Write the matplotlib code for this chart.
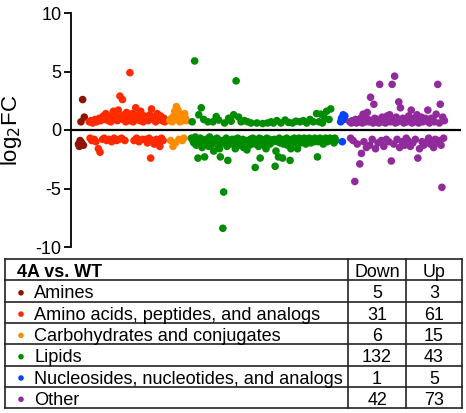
import numpy as np
import matplotlib
matplotlib.use("Agg")
import matplotlib.pyplot as plt

plt.rcParams['font.family'] = ['Liberation Sans', 'DejaVu Sans']

# log2FC values per class, in order along the x axis
amines = [-1.2, -1.4, -0.9, 0.7, -1.1, 2.6, -1.3, 1.1]
amino_acids = [0.7, -0.7, 0.8, -0.9, 0.6, 0.7, -0.8, 0.9, -1.0, 0.7, 0.8, -1.6, 1.0, -1.9, 0.8, 0.9,
               -0.8, 1.2, -0.7, 0.9, 1.4, -0.9, 1.1, 0.8,
               -0.8, 1.0, 0.7, -1.0, 1.3, 1.6, -0.7, 0.9, 1.2, -0.9, 0.8, 1.7, -0.8, 2.9, 1.1, -0.7,
               2.6, 0.9, 1.3, -0.9, 0.7, 1.5, 1.0, 0.8,
               1.2, 4.9, 0.8, 1.0, 1.4, 0.7, -0.9, 1.1, 1.9, -0.7, 0.9, 1.3, -1.0, 0.8, 1.6, 1.0,
               -0.8, 0.7, 1.2, 0.9,
               -0.8, 1.0, -1.1, 0.8, -0.7, 1.3, -2.4, 1.8, -0.9, 0.9, -1.2, 1.1, 0.7, -0.8, 1.4, -1.0,
               0.9, -1.4, 1.2, -0.7, 0.8, -0.9, 1.0, 0.7]
carbohydrates = [0.8, -0.9, 1.0, 0.7, -1.4, 1.2, 1.6, -1.1, 2.0, 0.9, 1.7, -0.8, 0.7, 1.1, 1.3, -0.9,
                 0.8, -0.7, 1.4, 1.0, 0.8]
lipids = [-0.7, 0.7, -0.9, -1.1, 5.9, -0.6, -1.3, -0.8, -2.4, 1.3, -1.0, -0.7, 1.9, -1.5, -0.9, 0.9,
          -2.3, -1.2, -0.8, -1.0, 0.7, -1.4, -0.6, -1.1, -0.9,
          -1.2, 0.7, -1.8, -0.8, -1.0, 1.15, -0.7, -1.3, 0.85, -1.6, -2.3, -0.9, -1.1, -8.4, -5.3, 0.6,
          -1.0, -0.7, -1.4, -2.6, 1.0, -0.9, -1.2, 0.75, -0.8,
          -1.1, 1.3, -0.8, -1.6, 4.2, -1.0, -0.7, 1.1, -1.3, -0.9, 0.7, -1.2, -0.8, -1.5, 0.8, -1.1,
          -0.9, -1.7, 0.7, -1.0, -1.3, -0.8, 0.6, -1.2, -0.7,
          -1.0, -0.8, -3.2, -1.2, 0.6, -0.9, -1.4, -0.7, -2.4, -1.1, -0.8, 0.55, -1.0, -1.3, -0.9, -1.6,
          -0.7, 0.6, -1.1, -0.8, -1.2, 0.7, -0.9, -1.0, 0.6,
          -0.8, -3.1, -1.8, 0.8, -1.0, -2.3, -0.7, -1.1, 0.6, -0.9, -2.4, -1.2, -0.8, 0.85, -1.0, -0.7,
          -1.3, 0.65, -0.9, -2.6, -1.6, -0.8, 0.6, -1.1, -0.7,
          -1.0, 0.75, -0.8, -1.6, -0.9, -0.7, 0.7, -1.1, -0.8, -1.0, 0.8, -0.7, -0.9, -1.2, 0.6, -0.8,
          -1.0, -0.7, 0.9, -1.1, -0.8, -0.9, 0.7, -1.0, -0.7,
          -0.8, 1.4, -2.3, -1.0, 0.7, -0.7, 1.35, -0.9, 0.6, -1.2, -0.8, 1.0, -0.7, 1.6, -1.0, -0.85,
          0.9, -0.7, 1.8, -0.9, -0.8, -0.8, -1.1, -0.7, -0.9]
nucleosides = [0.7, 1.0, -1.0, 1.3, 0.9, 1.2]
other = [0.7, -0.7, 0.6, 0.8, -0.9, 0.7, -4.4, 0.9, 0.6, -1.2, 0.8, 0.7, -2.9, 1.0, -2.0, 0.6, 1.35,
         -1.0, 0.8, 0.7, -1.5, 1.5, 0.9,
         0.7, -1.3, 2.8, 0.8, -0.8, 0.6, 2.2, 1.0, -1.6, 0.7, 0.9, -1.1, 0.6, 3.9, 0.8, -0.9, 1.1,
         0.7, -1.4, 0.9, 0.6, -0.8, 1.2,
         0.8, -1.0, 1.3, 0.7, -2.65, 3.9, 0.9, -1.2, 4.6, 0.6, 1.1, -0.8, 0.7, 2.4, -1.5, 1.9, 0.8,
         -1.0, 1.0, 0.6, -1.3, 0.9, -0.7,
         0.7, -0.9, 1.2, 0.8, -1.4, 1.7, 0.6, -1.1, 1.0, 0.7, -0.8, 0.9, 1.3, -2.4, 0.6, -1.6, 0.8,
         1.1, -1.0, 0.7, -1.3, 0.9, 1.0,
         0.8, -1.0, 1.7, -0.7, 0.6, -1.2, 1.0, -0.9, 0.9, -1.5, 0.7, -0.8, 1.35, -1.1, 3.9, -0.9, 0.6,
         2.2, -1.3, -4.9, 1.1, -0.7, 0.8]

classes = ["Amines", "Amino acids, peptides, and analogs", "Carbohydrates and conjugates",
           "Lipids", "Nucleosides, nucleotides, and analogs", "Other"]
series = [amines, amino_acids, carbohydrates, lipids, nucleosides, other]
colors = ["#8c1400", "#ff2a00", "#ff8c00", "#008c00", "#0044ff", "#912a9a"]
down_counts = [5, 31, 6, 132, 1, 42]
up_counts = [3, 61, 15, 43, 5, 73]

fig = plt.figure(figsize=(4.66, 4.13), dpi=100)
ax = fig.add_axes([71 / 466, 1 - 247 / 413, 390 / 466, 234 / 413])

gap = 5
start = 0
for vals, col in zip(series, colors):
    x = start + np.arange(len(vals))
    ax.scatter(x, vals, s=30, color=col, edgecolors='none', zorder=3)
    start += len(vals) + gap

ax.axhline(0, color='black', lw=1.6, zorder=2)
ax.set_xlim(-9, 461)
ax.set_ylim(-10, 10)
ax.set_yticks([-10, -5, 0, 5, 10])
ax.set_yticklabels(["-10", "-5", "0", "5", "10"], fontsize=13)
ax.set_xticks([])
for s in ['top', 'right', 'bottom']:
    ax.spines[s].set_visible(False)
ax.spines['left'].set_linewidth(1.3)
ax.tick_params(axis='y', length=5, width=1.3, pad=2)
ax.set_ylabel("log$_2$FC", fontsize=16)
ax.yaxis.set_label_coords(-0.12, 0.5)

# summary table, drawn in pixel coordinates
tb = fig.add_axes([0, 0, 1, 1], zorder=-1)
tb.set_xlim(0, 466)
tb.set_ylim(413, 0)
tb.axis('off')
top, rh = 259, 21.3
left, c1, c2, right = 5, 348, 406, 462
nrows = len(classes) + 1
for i in range(nrows + 1):
    tb.plot([left, right], [top + i * rh, top + i * rh], color='#222222', lw=1.2)
for xv in [left, c1, c2, right]:
    tb.plot([xv, xv], [top, top + nrows * rh], color='#222222', lw=1.2)

tb.text(17, top + 18, "4A vs. WT", fontsize=12.9, fontweight='bold', va='baseline')
tb.text((c1 + c2) / 2, top + 18, "Down", fontsize=12.9, ha='center', va='baseline')
tb.text((c2 + right) / 2, top + 18, "Up", fontsize=12.9, ha='center', va='baseline')
for i, (name, col, d, u) in enumerate(zip(classes, colors, down_counts, up_counts)):
    y0 = top + (i + 1) * rh
    tb.scatter([21], [y0 + 12.5], s=16, color=col, edgecolors='none')
    tb.text(34, y0 + 18, name, fontsize=13.1, va='baseline')
    tb.text((c1 + c2) / 2, y0 + 18, str(d), fontsize=12.9, ha='center', va='baseline')
    tb.text((c2 + right) / 2, y0 + 18, str(u), fontsize=12.9, ha='center', va='baseline')

fig.savefig("out.png", dpi=100)
